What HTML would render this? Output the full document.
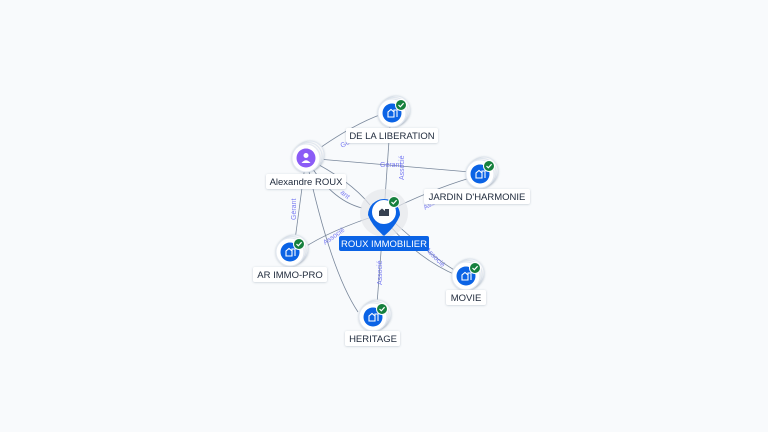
<!DOCTYPE html>
<html><head><meta charset="utf-8"><style>
html,body{margin:0;padding:0;background:#f8fafc;}
svg{display:block;font-family:"Liberation Sans",sans-serif;}
</style></head><body>
<svg width="768" height="432" viewBox="0 0 768 432">
<defs>
<filter id="sh" x="-30%" y="-30%" width="160%" height="160%"><feDropShadow dx="0" dy="0.5" stdDeviation="1" flood-color="#64748b" flood-opacity="0.35"/></filter>
<g id="chk"><circle r="5.5" fill="#15803d" stroke="#fff" stroke-width="1"/><path d="M-2.5,0 L-0.7,1.8 L2.6,-1.8" stroke="#fff" stroke-width="1.2" fill="none"/></g>
<g id="bld"><path d="M-4,4 V-1 L-1,-3.5 L2,-1 V4 Z M2,4 V-3 H5 V4" stroke="#fff" stroke-width="1.1" fill="none"/></g>
<g id="sat">
<circle cx="4" cy="-3" r="14" fill="#fff" stroke="#e2e8f0" filter="url(#sh)"/>
<circle cx="2" cy="-1.5" r="14" fill="#fff" stroke="#e2e8f0" filter="url(#sh)"/>
<circle cx="0" cy="0" r="14" fill="#fff" stroke="#e2e8f0" filter="url(#sh)"/>
<circle r="9.5" fill="#0b63e5"/>
<use href="#bld"/>
<use href="#chk" x="9" y="-8"/>
</g>
</defs>
<g stroke="#64748b" stroke-width="0.8" fill="none" opacity="0.85">
<path d="M384,213 L390,126"/>
<path d="M384,213 Q430,190 470,178"/>
<path d="M384,213 Q435,260 458,272"/>
<path d="M384,213 L377,304"/>
<path d="M384,213 Q330,230 302,249"/>
<path d="M306,158 Q350,125 385,113"/>
<path d="M306,158 Q390,165 470,172"/>
<path d="M306,158 Q350,180 370,205"/>
<path d="M306,158 Q330,270 358,312"/>
<path d="M306,158 L295,240"/>
<path d="M306,158 Q330,200 362,208"/>
<path d="M390,226 Q420,260 458,276"/>
</g>
<g font-size="7" fill="#6366f1" opacity="0.85">
<text x="342" y="148" transform="rotate(-30 342 148)">Gérant</text>
<text x="380" y="167">Gérant</text>
<text x="296" y="220" transform="rotate(-90 296 220)">Gérant</text>
<text x="340" y="193" transform="rotate(40 340 193)">ant</text>
<text x="404" y="180" transform="rotate(-90 404 180)">Associé</text>
<text x="425" y="210" transform="rotate(-30 425 210)">Associé</text>
<text x="325" y="245" transform="rotate(-35 325 245)">Associé</text>
<text x="382" y="285" transform="rotate(-90 382 285)">Associé</text>
<text x="425" y="250" transform="rotate(45 425 250)">Associé</text>
</g>
<circle cx="384" cy="213" r="24" fill="#e5e7eb" opacity="0.7"/>
<path d="M368,215 A16,16 0 1 1 400,215 Q396,226 384,236 Q372,226 368,215 Z" fill="#0b63e5"/>
<circle cx="384" cy="212" r="12" fill="#fff"/>
<path d="M379,216 V211 L382,208.5 L385,211 V216 Z M385,216 V209 H389 V216 Z" fill="#374151"/>
<use href="#chk" x="394" y="202"/>
<rect x="339" y="236" width="90" height="15" rx="2" fill="#0b63e5"/>
<text x="384" y="247" font-size="9.5" fill="#fff" text-anchor="middle">ROUX IMMOBILIER</text>
<g>
<circle cx="310" cy="155" r="14" fill="#fff" stroke="#e2e8f0" filter="url(#sh)"/>
<circle cx="308" cy="156.5" r="14" fill="#fff" stroke="#e2e8f0" filter="url(#sh)"/>
<circle cx="306" cy="158" r="14" fill="#fff" stroke="#e2e8f0" filter="url(#sh)"/>
<circle cx="306" cy="158" r="9.5" fill="#8b5cf6"/>
<circle cx="306" cy="155.5" r="2.5" fill="#fff"/>
<path d="M301.5,163 Q306,157.5 310.5,163 Z" fill="#fff"/>
</g>
<use href="#sat" x="392" y="113"/>
<use href="#sat" x="480" y="174"/>
<use href="#sat" x="290" y="252"/>
<use href="#sat" x="466" y="276"/>
<use href="#sat" x="373" y="317"/>
<g font-size="9.5" fill="#1e293b" text-anchor="middle">
<rect x="346" y="128" width="92" height="15" rx="2" fill="#fff" filter="url(#sh)"/><text x="392" y="139">DE LA LIBERATION</text>
<rect x="266" y="174" width="80" height="15" rx="2" fill="#fff" filter="url(#sh)"/><text x="306" y="185">Alexandre ROUX</text>
<rect x="424" y="189" width="106" height="15" rx="2" fill="#fff" filter="url(#sh)"/><text x="477" y="200">JARDIN D'HARMONIE</text>
<rect x="253" y="267" width="74" height="15" rx="2" fill="#fff" filter="url(#sh)"/><text x="290" y="278">AR IMMO-PRO</text>
<rect x="446" y="290" width="40" height="15" rx="2" fill="#fff" filter="url(#sh)"/><text x="466" y="301">MOVIE</text>
<rect x="345" y="331" width="55" height="15" rx="2" fill="#fff" filter="url(#sh)"/><text x="373" y="342">HERITAGE</text>
</g>
</svg>
</body></html>
